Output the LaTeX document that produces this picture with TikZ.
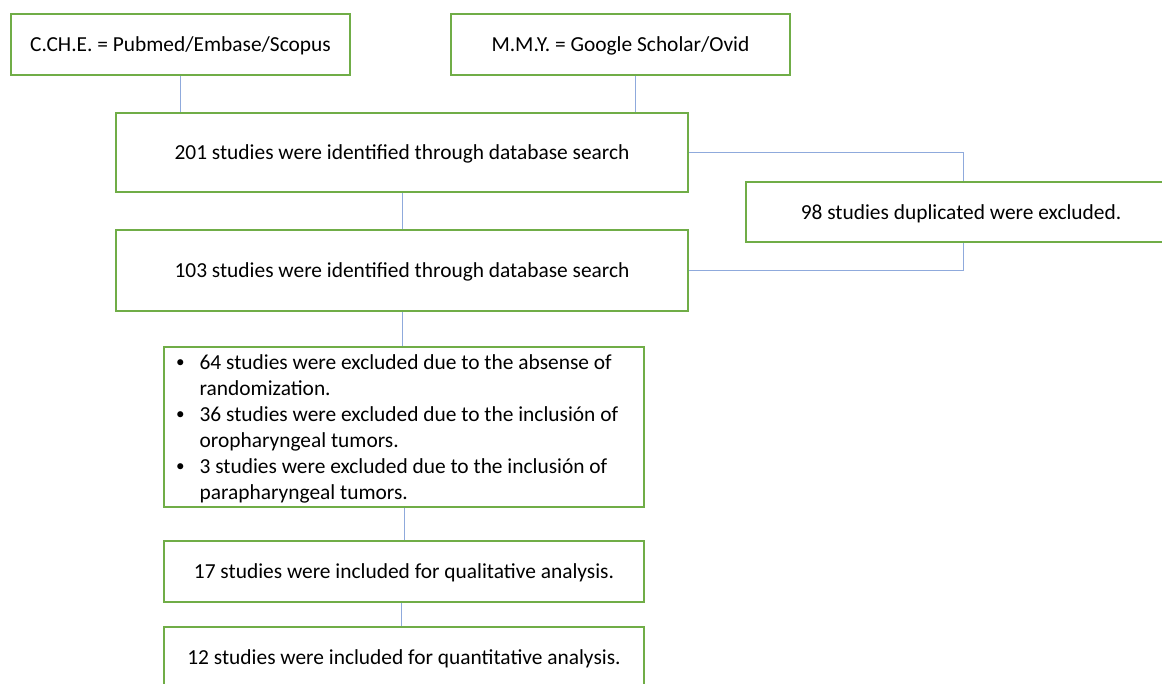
\documentclass[tikz,border=0pt]{standalone}
\usepackage{fontspec}
\setmainfont{Carlito}
\definecolor{boxgreen}{RGB}{112,173,71}
\definecolor{linkblue}{RGB}{143,170,220}
\newcommand{\mybul}{\raisebox{1.5pt}{\scalebox{0.8}{\textbullet}}}
\begin{document}
\begin{tikzpicture}[x=1pt,y=-1pt,
  box/.style={draw=boxgreen, line width=2.2pt, fill=white, inner sep=0pt,
    font=\fontsize{21.4}{26}\selectfont, text depth=3pt, text height=17pt},
  link/.style={draw=linkblue, line width=1pt},
  plain/.style={inner sep=0pt, font=\fontsize{21.4}{26}\selectfont, align=left}]
\useasboundingbox (0,0) rectangle (1162,683);
\clip (0,0) rectangle (1162,683);
\node[box, minimum width=339pt, minimum height=61pt] (b1) at (180.5,44.5) {C.CH.E. = Pubmed/Embase/Scopus};
\node[box, minimum width=339pt, minimum height=61pt] (b2) at (620.5,44.5) {M.M.Y. = Google Scholar/Ovid};
\node[box, minimum width=572pt, minimum height=79pt] (b3) at (402,152.5) {201 studies were identified through database search};
\node[box, minimum width=572pt, minimum height=81pt] (b4) at (402,270.5) {103 studies were identified through database search};
\coordinate (r1) at (963,152.5);
\coordinate (r2) at (963,270.5);
\draw[link] (b3.east) -- (r1) -- (r2) -- (b4.east);
\node[box, minimum width=430pt, minimum height=60pt] (b5) at (961,212) {98 studies duplicated were excluded.};
\node[box, minimum width=480pt, minimum height=160pt] (b6) at (404,427) {};
\node[plain, anchor=west] (b6t) at ([xshift=13pt,yshift=-2pt]b6.west) {%
  \begin{tabular}{@{}l@{\hspace{15pt}}l@{}}
  \mybul & 64 studies were excluded due to the absense of\\
   & randomization.\\
  \mybul & 36 studies were excluded due to the inclusión of\\
   & oropharyngeal tumors.\\
  \mybul & 3 studies were excluded due to the inclusión of\\
   & parapharyngeal tumors.
  \end{tabular}};
\node[box, minimum width=480pt, minimum height=61pt] (b7) at (404,571.5) {17 studies were included for qualitative analysis.};
\node[box, minimum width=480pt, minimum height=61pt] (b8) at (404,657.5) {12 studies were included for quantitative analysis.};
\coordinate (c2) at ([xshift=14.5pt]b2.south);
\draw[link] (b1.south) -- (b1.south |- b3.north);
\draw[link] (c2) -- (c2 |- b3.north);
\draw[link] (b3.south) -- (b4.north);
\draw[link] (b4.south) -- (b4.south |- b6.north);
\draw[link] (b6.south) -- (b7.north);
\draw[link] ([xshift=-3pt]b7.south) -- ([xshift=-3pt]b8.north);
\end{tikzpicture}
\end{document}
